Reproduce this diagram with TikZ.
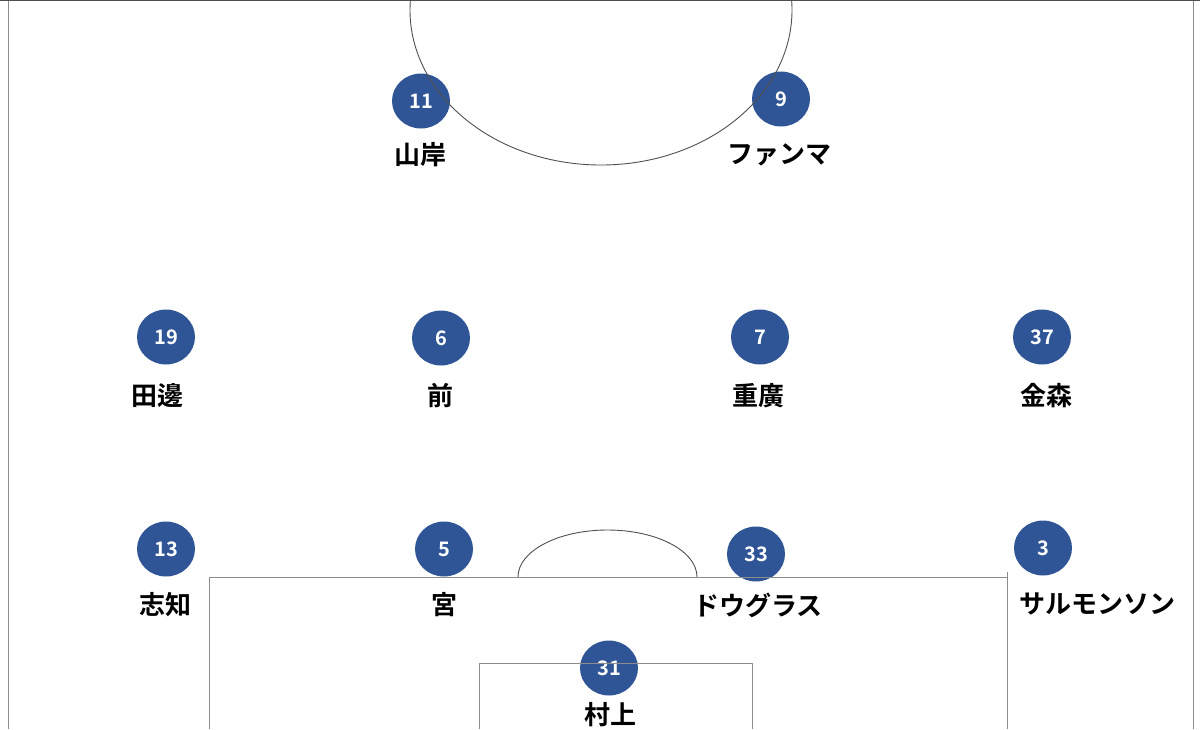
\documentclass[tikz,border=0pt]{standalone}
\usepackage{fontspec}
\usetikzlibrary{shapes.geometric}
\newfontfamily\jpfont{Noto Sans CJK JP}[BoldFont={Noto Sans CJK JP Bold}]
\definecolor{dotblue}{HTML}{2F5597}
\definecolor{pitchline}{HTML}{8C8C8C}
\definecolor{circline}{HTML}{505050}
\tikzset{
  player/.style={ellipse, fill=dotblue, minimum width=58pt, minimum height=55pt, inner sep=0pt,
    text=white, font=\jpfont\bfseries\fontsize{20}{20}\selectfont},
  pname/.style={inner sep=0pt, text=black, font=\jpfont\bfseries\fontsize{26}{26}\selectfont},
  line/.style={draw=pitchline, line width=1pt},
  cline/.style={draw=circline, line width=0.9pt}
}
\begin{document}
\begin{tikzpicture}[x=1pt,y=-1pt]
\useasboundingbox (0,0) rectangle (1200,729);
\clip (0,0) rectangle (1200,729);
\fill[white] (0,0) rectangle (1200,729);
% players
\node[player] (p11) at (421,101) {11};
\node[player] (p9) at (781,99) {9};
\node[player] (p19) at (166,337) {19};
\node[player] (p6) at (441,338) {6};
\node[player] (p7) at (760,337) {7};
\node[player] (p37) at (1042,337) {37};
\node[player] (p13) at (166,549) {13};
\node[player] (p5) at (444,549) {5};
\node[player] (p33) at (756,554) {33};
\node[player] (p3) at (1043,548) {3};
\node[player] (p31) at (609,668) {31};
% names
\node[pname] (n11) at (420,155) {山岸};
\node[pname] (n9) at (779,155) {ファンマ};
\node[pname] (n19) at (157,396) {田邊};
\node[pname] (n6) at (440,396) {前};
\node[pname] (n7) at (758,396) {重廣};
\node[pname] (n37) at (1046,396) {金森};
\node[pname] (n13) at (165,605) {志知};
\node[pname] (n5) at (444,605) {宮};
\node[pname] (n33) at (758,605) {ドウグラス};
\node[pname] (n3) at (1097,604) {サルモンソン};
\node[pname] (n31) at (610,715) {村上};
% pitch lines
\draw[line] (8,0.5) -- (8,729);
\draw[line] (1193,0.5) -- (1193,729);
\draw[cline] (0,0.6) -- (1200,0.6);
\draw[cline] (601,10) ellipse [x radius=191, y radius=155];
\draw[line] (209,729) -- (209,577) -- (1007,577) -- (1007,729);
\draw[line] (1007,577) -- (1007,572);
\draw[line] (479,729) -- (479,663) -- (752,663) -- (752,729);
\draw[cline] (518,577) arc[start angle=180, end angle=360, x radius=89.5, y radius=47];
\end{tikzpicture}
\end{document}
